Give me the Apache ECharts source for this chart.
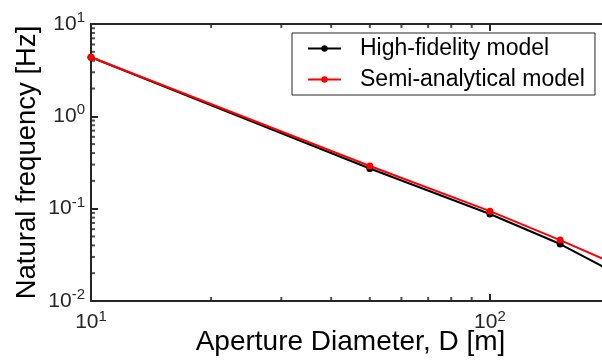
<!DOCTYPE html>
<html>
<head>
<meta charset="utf-8">
<script src="https://cdn.jsdelivr.net/npm/echarts@6/dist/echarts.min.js"></script>
<style>
  html, body { margin: 0; padding: 0; background: #fff; }
  #chart { width: 602px; height: 364px; }
</style>
</head>
<body>
<div id="chart"></div>
<script>
// Aperture diameter D [m] and natural frequency [Hz]
const diameters      = [10, 50, 100, 150, 200]
const highFidelity   = [4.36, 0.272, 0.0875, 0.0414, 0.0215]
const semiAnalytical = [4.36, 0.290, 0.094, 0.0457, 0.0266]

// minor tick positions
const xMinor = [20, 30, 40, 50, 60, 70, 80, 90]
const yMinor = [0.02, 0.03, 0.04, 0.05, 0.06, 0.07, 0.08, 0.09,
                0.2, 0.3, 0.4, 0.5, 0.6, 0.7, 0.8, 0.9,
                2, 3, 4, 5, 6, 7, 8, 9]

const xMin = 10, xMax = 200, yMin = 0.01, yMax = 10

const font = 'Liberation Sans, Arial, sans-serif'
const axisColor = '#262626'

const powLabel = v => {
  const e = Math.log10(v)
  if (Math.abs(e - Math.round(e)) > 1e-6) return ''
  return '{b|10}{s|' + Math.round(e) + '}'
}
const labelRich = {
  b: { fontSize: 21, fontFamily: font, color: axisColor },
  s: { fontSize: 15, fontFamily: font, color: axisColor, padding: [0, 0, 12, 0] },
}

const chart = echarts.init(document.getElementById('chart'))

const tickStyle = { color: axisColor, width: 2 }
const xBase = {
  type: 'log', min: xMin, max: xMax, logBase: 10,
  splitLine: { show: false },
  axisLine: { show: true, lineStyle: tickStyle },
  axisTick: { show: true, inside: true, length: 7, lineStyle: tickStyle },
}
const yBase = {
  type: 'log', min: yMin, max: yMax, logBase: 10,
  splitLine: { show: false },
  axisLine: { show: true, lineStyle: tickStyle },
  axisTick: { show: true, inside: true, length: 7, lineStyle: tickStyle },
}

// short marks standing in for the minor ticks (2..9 of each decade)
const minorTicks = (data, size, offset) => ({
  type: 'scatter', xAxisIndex: 0, yAxisIndex: 0, silent: true, clip: false,
  data, symbol: 'rect', symbolSize: size, symbolOffset: offset,
  itemStyle: { color: axisColor }, z: 1,
})

chart.setOption({
  animation: false,
  backgroundColor: '#fff',
  grid: { left: 91, top: 24, width: 519, height: 277, outerBoundsMode: 'none' },
  legend: {
    orient: 'vertical',
    left: 292, top: 33,
    padding: [4, 10, 4, 15],
    itemGap: 8,
    itemWidth: 33, itemHeight: 8,
    borderColor: '#262626', borderWidth: 1,
    backgroundColor: '#fff',
    textStyle: { fontSize: 23, lineHeight: 22, fontFamily: font, color: '#000', padding: [0, 0, 0, 14] },
    data: ['High-fidelity model', 'Semi-analytical model'],
  },
  xAxis: [
    { ...xBase, position: 'bottom',
      name: 'Aperture Diameter, D [m]', nameLocation: 'middle', nameGap: 27, nameMoveOverlap: false,
      nameTextStyle: { fontSize: 28, fontFamily: font, color: '#000' },
      axisLabel: { show: true, margin: 8, formatter: powLabel, rich: labelRich, showMaxLabel: false } },
    { ...xBase, position: 'top', axisLabel: { show: false } },
  ],
  yAxis: [
    { ...yBase, position: 'left',
      name: 'Natural frequency [Hz]', nameLocation: 'middle', nameGap: 50, nameMoveOverlap: false,
      nameTextStyle: { fontSize: 27.5, fontFamily: font, color: '#000' },
      axisLabel: { show: true, margin: 6, formatter: powLabel, rich: labelRich } },
  ],
  series: [
    minorTicks(yMinor.map(v => [xMin, v]), [4, 2], [2, 0]),
    minorTicks(xMinor.map(v => [v, yMin]), [2, 4], [0, -2]),
    minorTicks(xMinor.map(v => [v, yMax]), [2, 4], [0, 2]),
    {
      name: 'High-fidelity model', type: 'line',
      xAxisIndex: 0, yAxisIndex: 0,
      data: diameters.map((d, i) => [d, highFidelity[i]]),
      lineStyle: { color: '#000', width: 2 },
      itemStyle: { color: '#000' },
      symbol: 'circle', symbolSize: 7, showSymbol: true,
      clip: true, z: 2,
    },
    {
      name: 'Semi-analytical model', type: 'line',
      xAxisIndex: 0, yAxisIndex: 0,
      data: diameters.map((d, i) => [d, semiAnalytical[i]]),
      lineStyle: { color: '#ff0000', width: 2 },
      itemStyle: { color: '#ff0000' },
      symbol: 'circle', symbolSize: 7, showSymbol: true,
      clip: true, z: 3,
    },
  ],
})
</script>
</body>
</html>
